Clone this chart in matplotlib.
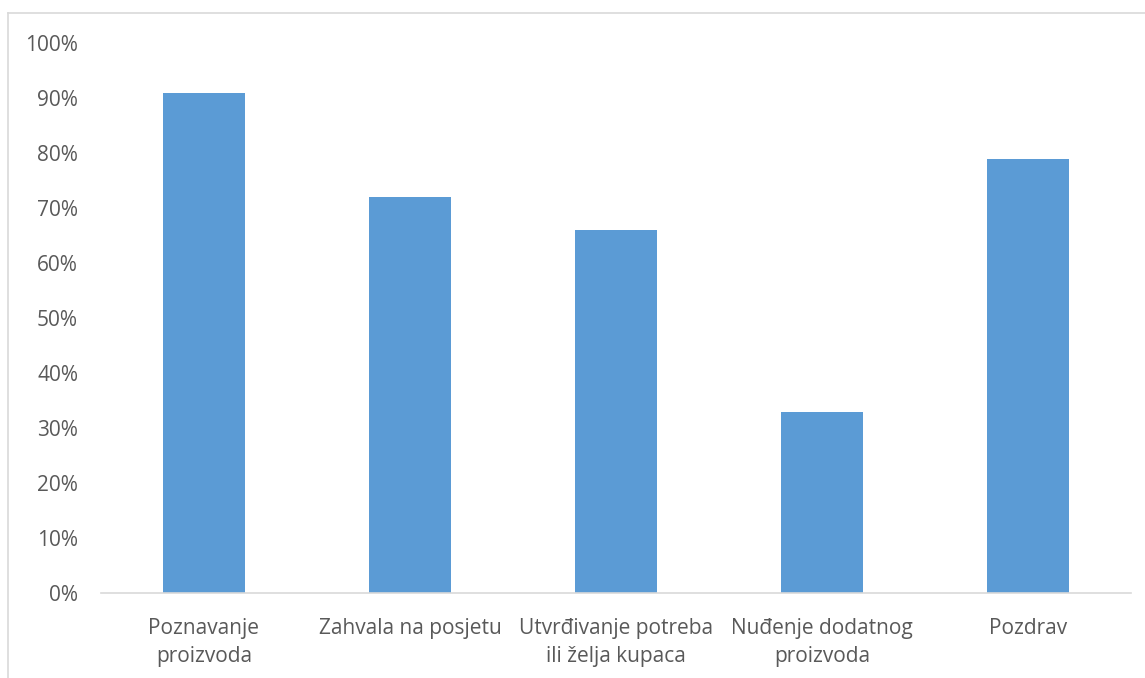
import matplotlib
matplotlib.use("Agg")
import matplotlib.pyplot as plt
from matplotlib.lines import Line2D
from matplotlib.ticker import FuncFormatter

categories = ["Poznavanje\nproizvoda", "Zahvala na posjetu", "Utvrđivanje potreba\nili želja kupaca",
              "Nuđenje dodatnog\nproizvoda", "Pozdrav"]
values = [0.91, 0.72, 0.66, 0.33, 0.79]
yticks = [0.0, 0.1, 0.2, 0.3, 0.4, 0.5, 0.6, 0.7, 0.8, 0.9, 1.0]

plt.rcParams['font.family'] = ['Open Sans', 'DejaVu Sans']
W, H = 1145, 678
fig = plt.figure(figsize=(W / 100, H / 100), dpi=100)
ax = fig.add_axes([101 / W, 1 - 593 / H, (1131 - 101) / W, (593 - 43) / H])

x = range(len(categories))
ax.bar(x, values, width=0.4, color="#5B9BD5")
ax.set_xlim(-0.5, len(categories) - 0.5)
ax.set_ylim(0, 1.0)
ax.set_yticks(yticks)
ax.yaxis.set_major_formatter(FuncFormatter(lambda v, p: f"{v*100:.0f}%"))
ax.set_xticks(list(x))
ax.set_xticklabels(categories, linespacing=1.45)
for s in ["top", "right", "left"]:
    ax.spines[s].set_visible(False)
ax.spines["bottom"].set_color("#D9D9D9")
ax.spines["bottom"].set_linewidth(1.2)
ax.tick_params(axis="both", length=0, colors="#595959", labelsize=15)
ax.tick_params(axis="x", pad=18)
ax.tick_params(axis="y", pad=16.5)

fig.add_artist(Line2D([8 / W, 1.0], [1 - 13 / H, 1 - 13 / H], color="#D9D9D9", lw=1.2))
fig.add_artist(Line2D([8 / W, 8 / W], [0, 1 - 13 / H], color="#D9D9D9", lw=1.2))

fig.savefig("out.png", dpi=100, facecolor="white")
